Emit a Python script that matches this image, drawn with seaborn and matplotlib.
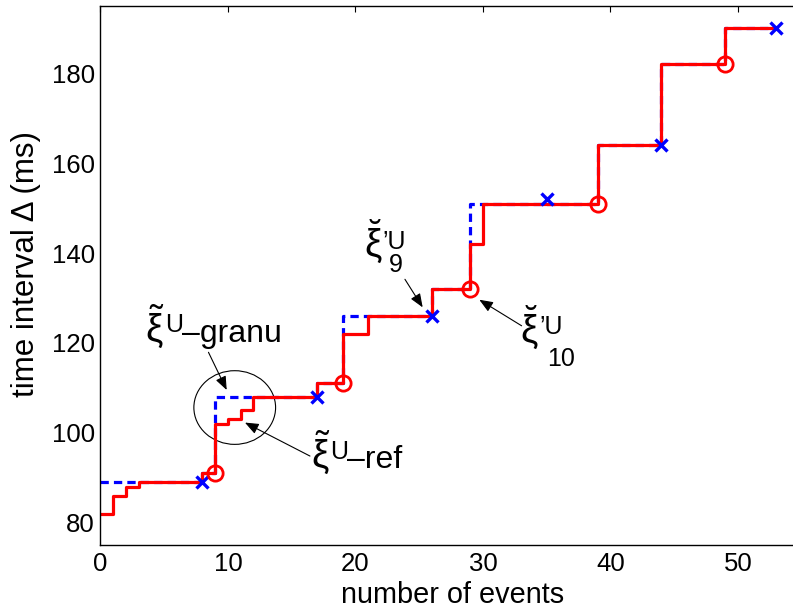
import numpy as np
import pandas as pd
import matplotlib
matplotlib.use("Agg")
import matplotlib.pyplot as plt
from matplotlib.patches import Ellipse
import seaborn as sns

# ---------------- data ----------------
ref_x = [0, 1, 2, 3, 8, 9, 10, 11, 12, 17, 19, 21, 26, 29, 30, 39, 44, 49, 53]
ref_y = [82, 86, 88, 89, 91, 102, 103, 105, 108, 111, 122, 126, 132, 142, 151, 164, 182, 190, 190]

granu_x = [0, 8, 9, 17, 19, 26, 29, 39, 44, 49, 53]
granu_y = [89, 91, 108, 111, 126, 132, 151, 164, 182, 190, 190]

cross_x = [8, 17, 26, 35, 44, 53]
cross_y = [89, 108, 126, 152, 164, 190]

circ_x = [9, 19, 29, 39, 49]
circ_y = [91, 111, 132, 151, 182]

xticks = [0, 10, 20, 30, 40, 50]
yticks = [80, 100, 120, 140, 160, 180]

# ---------------- style ----------------
sns.set_theme(style="white")
plt.rcParams['font.family'] = ['Liberation Sans', 'DejaVu Sans']
plt.rcParams['mathtext.fontset'] = 'custom'
plt.rcParams['mathtext.rm'] = 'Liberation Sans'
plt.rcParams['mathtext.it'] = 'Liberation Sans'
plt.rcParams['mathtext.bf'] = 'Liberation Sans:bold'

fig = plt.figure(figsize=(7.93, 6.14), dpi=100)
ax = fig.add_axes([0.1267, 0.1124, 0.8843, 0.8779])

sns.lineplot(x=granu_x, y=granu_y, drawstyle='steps-post', color='blue',
             linewidth=2.3, linestyle=(0, (2.6, 1.6)), sort=False,
             estimator=None, ax=ax)
sns.lineplot(x=ref_x, y=ref_y, drawstyle='steps-post', color='red',
             linewidth=2.3, sort=False, estimator=None, ax=ax)
sns.lineplot(x=cross_x, y=cross_y, color='blue', linestyle='', marker='x',
             markersize=9, markeredgewidth=2.4, markeredgecolor='blue',
             sort=False, estimator=None, ax=ax)
sns.lineplot(x=circ_x, y=circ_y, color='red', linestyle='', marker='o',
             markersize=11, markeredgewidth=2.0, markerfacecolor='none',
             markeredgecolor='red', sort=False, estimator=None, ax=ax)

ax.set_xlim(0, 55)
ax.set_ylim(75, 195)
ax.set_xticks(xticks)
ax.set_yticks(yticks)

for s in ['left', 'bottom', 'top']:
    ax.spines[s].set_color('black')
    ax.spines[s].set_linewidth(1.0)
ax.spines['right'].set_visible(False)
ax.tick_params(direction='in', length=4.3, width=0.8, top=True, right=False,
               labelsize=18.5, colors='black')
ax.tick_params(axis='x', pad=5)
ax.tick_params(axis='y', pad=4)

ax.set_xlabel('number of events', fontsize=20.8, color='black')
ax.set_ylabel('time interval Δ (ms)', fontsize=22.5, color='black')
ax.xaxis.set_label_coords(0.5027, -0.0668)
ax.yaxis.set_label_coords(-0.0849, 0.522)

# ---------------- annotations ----------------
ell = Ellipse((10.53, 105.6), 6.41, 16.4, fill=False, edgecolor='black', linewidth=0.8)
ax.add_patch(ell)

aprops = dict(arrowstyle='-|>,head_length=0.55,head_width=0.22', color='black',
              lw=0.8, shrinkA=0, shrinkB=0, mutation_scale=15)

greek = 28
big = 23
small = 18
kw = dict(ha='left', va='baseline', color='black')

# xi~U - granu
ax.text(3.5, 120.18, r'$\tilde{\xi}$', fontsize=greek, **kw)
ax.text(5.1, 122.34, 'U', fontsize=small, **kw)
ax.text(6.4, 120.18, '–granu', fontsize=big, **kw)
ax.annotate('', xy=(9.9, 109.5), xytext=(8.47, 117.9), arrowprops=aprops)

# xi~U - ref
ax.text(16.5, 92.21, r'$\tilde{\xi}$', fontsize=greek, **kw)
ax.text(18.05, 94.06, 'U', fontsize=small, **kw)
ax.text(19.35, 92.21, '–ref', fontsize=big, **kw)
ax.annotate('', xy=(11.33, 102.25), xytext=(16.43, 94.8), arrowprops=aprops)

# xi' U 9
ax.text(20.7, 139.15, r'$\breve{\xi}$', fontsize=greek, **kw)
ax.text(22.15, 140.9, '’U', fontsize=small, **kw)
ax.text(22.6, 135.7, '9', fontsize=small, **kw)
ax.annotate('', xy=(25.27, 127.9), xytext=(23.88, 134.15), arrowprops=aprops)

# xi' U 10
ax.text(32.9, 120.0, r'$\breve{\xi}$', fontsize=greek, **kw)
ax.text(34.45, 121.96, '’U', fontsize=small, **kw)
ax.text(35.0, 114.9, '10', fontsize=small, **kw)
ax.annotate('', xy=(29.71, 129.6), xytext=(33.03, 123.8), arrowprops=aprops)

fig.savefig('out.png', dpi=100)
